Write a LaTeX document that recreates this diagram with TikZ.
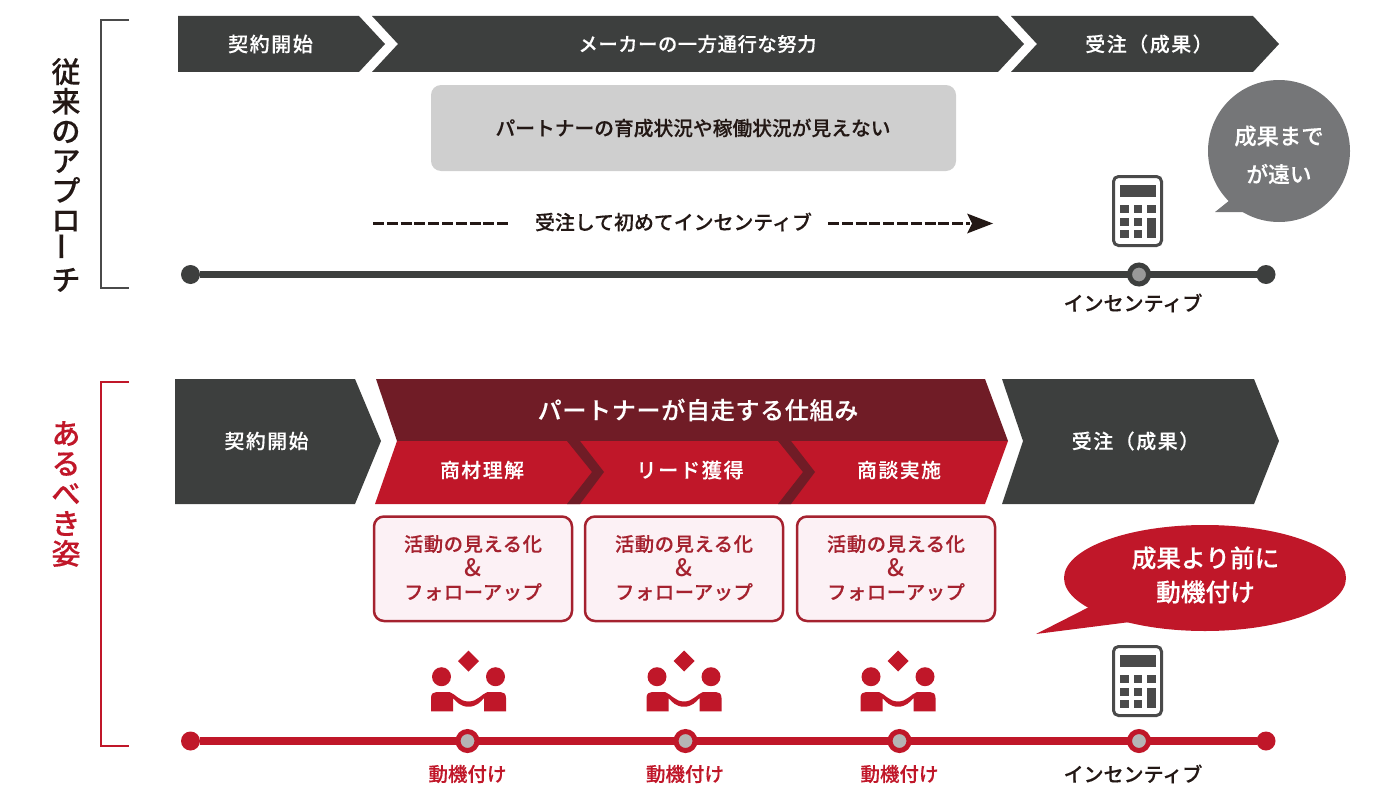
\documentclass[tikz,border=0pt]{standalone}
\usepackage{fontspec}
\setmainfont[UprightFont={* Medium},BoldFont={* Medium},BoldFeatures={FakeBold=0.25}]{Noto Sans CJK JP}
\newfontfamily\jpt[LetterSpace=8,UprightFont={* Medium},BoldFont={* Medium},BoldFeatures={FakeBold=0.25}]{Noto Sans CJK JP}
\newfontfamily\jps[LetterSpace=3,UprightFont={* Medium},BoldFont={* Medium},BoldFeatures={FakeBold=0.25}]{Noto Sans CJK JP}
\definecolor{dk}{HTML}{3D3F3E}
\definecolor{ink}{HTML}{231815}
\definecolor{rd}{HTML}{C01729}
\definecolor{drd}{HTML}{701C26}
\definecolor{brd}{HTML}{A5222F}
\definecolor{pk}{HTML}{FCF1F5}
\definecolor{gb}{HTML}{CFCFCF}
\definecolor{gbub}{HTML}{757678}
\definecolor{calc}{HTML}{4A4A4A}
\definecolor{hubd}{HTML}{999999}
\definecolor{hubr}{HTML}{B5B5B5}
\newcommand{\fs}[1]{\fontsize{#1}{#1}\selectfont\bfseries}
\tikzset{
  x=1pt,y=-1pt,
  lab/.style={inner sep=0pt,font=\fs{20}},
  wlab/.style={lab,text=white},
  endd/.style={circle,inner sep=0pt,outer sep=0pt,minimum size=19pt,fill=#1},
  midd/.style={circle,inner sep=0pt,outer sep=0pt,minimum size=19pt,draw=#1,line width=5pt},
  tl/.style={line width=7.5pt,draw=#1},
  brk/.style={line width=2pt,draw=#1},
  pbox/.style={rounded corners=10pt,draw=brd,line width=2.5pt,fill=pk},
  plab/.style={inner sep=0pt,font=\jps\fs{19.3},text=brd,align=center},
  vert/.style={inner sep=0pt,align=center},
  calcicon/.pic={
    \draw[draw=calc,line width=3pt,fill=white,rounded corners=5pt] (1113.5,176.5) rectangle (1161.5,245.5);
    \fill[calc] (1120,185) rectangle (1156,197);
    \foreach \xa/\xb in {1120/1129,1134/1142,1147/1156}{\fill[calc] (\xa,205) rectangle (\xb,213);}
    \foreach \xa/\xb in {1120/1129,1134/1142}{\fill[calc] (\xa,218) rectangle (\xb,226);\fill[calc] (\xa,230) rectangle (\xb,238);}
    \fill[calc] (1147,218) rectangle (1156,238);
  },
  shake/.pic={
    \fill[rd] (0,-10.5) -- (10.5,0) -- (0,10.5) -- (-10.5,0) -- cycle;
    \fill[rd] (-27,15.7) circle (9.5) (27,15.7) circle (9.5);
    \fill[rd] (-37.5,50.3) -- (-37.5,37) .. controls (-37.5,32.5) and (-35,31) .. (-32,31) -- (-19,31)
      .. controls (-13,33) and (-9,40.5) .. (0,40.5) .. controls (9,40.5) and (13,33) .. (19,31)
      -- (32,31) .. controls (35,31) and (37.5,32.5) .. (37.5,37) -- (37.5,50.3) -- (15.5,50.3) -- (15.5,37)
      .. controls (12,41) and (8,45.7) .. (0,45.7) .. controls (-8,45.7) and (-12,41) .. (-15.5,37) -- (-15.5,50.3) -- cycle;
  }
}
\begin{document}
\begin{tikzpicture}
\useasboundingbox (0,0) rectangle (1400,800);
% ---- top section
\draw[brk=calc] (129,20) -- (101,20) -- (101,288) -- (129,288);
\node[vert,text=ink,font=\fontsize{29}{29.7}\selectfont\bfseries] (vt) at (66,175) {従\\来\\の\\ア\\プ\\ロ\\\rotatebox{90}{ー}\\チ};
\fill[dk] (178,16) -- (359,16) -- (385,44) -- (359,72) -- (178,72) -- cycle;
\fill[dk] (372,16) -- (998,16) -- (1024,44) -- (998,72) -- (372,72) -- (398,44) -- cycle;
\fill[dk] (1011,16) -- (1253,16) -- (1279,44) -- (1253,72) -- (1011,72) -- (1037,44) -- cycle;
\node[wlab,font=\jpt\fs{20}] (t1) at (270.5,44) {契約開始};
\node[wlab,font=\jps\fs{19.3}] (t2) at (697.5,44) {メーカーの一方通行な努力};
\node[wlab,font=\jpt\fs{19.9}] (t3) at (1149,44) {受注（成果）};
\fill[gb,rounded corners=10pt] (431,85) rectangle (956,171);
\node[lab,text=ink,font=\fs{19.75}] (gbt) at (693,128) {パートナーの育成状況や稼働状況が見えない};
\node[lab,text=ink,font=\fs{19.9}] (inc) at (673.5,222) {受注して初めてインセンティブ};
\coordinate (dl) at (373,223.5);
\coordinate (dle) at (510,223.5);
\coordinate (dr) at (828,223.5);
\coordinate (dre) at (993,223.5);
\draw[ink,line width=3.2pt,dash pattern=on 11pt off 2.8pt] (dl) -- (dle);
\draw[ink,line width=3.2pt,dash pattern=on 11pt off 2.8pt] (dr) -- (970,223.5);
\fill[ink] (dre) -- (967,213.5) -- (972,223.5) -- (967,233.5) -- cycle;
\fill[gbub] (1279,151) circle (71);
\fill[gbub] (1215,212) -- (1235,196) -- (1250,212) -- cycle;
\node[wlab,font=\fs{22.3}] (b1) at (1279,136) {成果まで};
\node[wlab,font=\fs{21.7}] (b2) at (1279,174) {が遠い};
\pic at (0,0) {calcicon};
\node[endd=dk] (a0) at (190.5,274.5) {};
\node[endd=dk] (a2) at (1266,274.5) {};
\node[midd=dk,fill=hubd] (a1) at (1139,274.5) {};
\draw[tl=dk] (a0) -- (a1);
\draw[tl=dk] (a1) -- (a2);
\node[lab,text=ink] (l1) at (1133,303) {インセンティブ};
% ---- bottom section
\draw[brk=rd] (129,382) -- (101,382) -- (101,746) -- (129,746);
\node[vert,text=rd,font=\fontsize{29}{30}\selectfont\bfseries] (vb) at (66,494) {あ\\る\\べ\\き\\姿};
\fill[dk] (175,379) -- (355,379) -- (381,441) -- (355,504) -- (175,504) -- cycle;
\fill[dk] (1002,379) -- (1254,379) -- (1279,441) -- (1254,504) -- (1002,504) -- (1023,441) -- cycle;
\fill[drd] (376,379) -- (985,379) -- (1008,441) -- (397,441) -- cycle;
\fill[rd] (397,441) -- (1008,441) -- (985,504) -- (375,504) -- cycle;
\foreach \dx in {0,211}{
  \fill[drd,xshift=\dx] (567,441) -- (580,441) -- (604,472) -- (580,504) -- (567,504) -- (592,472) -- cycle;
}
\node[wlab,font=\jps\fs{24}] (m0) at (698,410) {パートナーが自走する仕組み};
\node[wlab,font=\jpt\fs{19.8}] (m1) at (482,470) {商材理解};
\node[wlab,font=\jpt\fs{20.2}] (m2) at (690,470) {リード獲得};
\node[wlab,font=\jpt\fs{19.8}] (m3) at (899,470) {商談実施};
\node[wlab,font=\jpt\fs{19.8}] (s1) at (266.5,441) {契約開始};
\node[wlab,font=\jpt\fs{19.9}] (s3) at (1135.5,441) {受注（成果）};
\foreach \xa/\xb/\c in {374/572/473,585/783/684,797/995/896}{
  \draw[pbox] (\xa,516.5) rectangle (\xb,621);
  \node[plab] at (\c,544) {活動の見える化};
  \node[plab,font=\fontsize{24}{24}\selectfont\mdseries] at (\c,568) {\&};
  \node[plab] at (\c,592) {フォローアップ};
}
\fill[rd] (1205,578) ellipse [x radius=141,y radius=53];
\fill[rd] (1036,634) -- (1095,604) -- (1130,622) -- cycle;
\node[wlab,font=\fs{24.7}] (r1) at (1205.5,558) {成果より前に};
\node[wlab,font=\fs{24.7}] (r2) at (1205.5,592) {動機付け};
\pic at (0,470) {calcicon};
\foreach \c in {468.5,684,898}{\pic at (\c,661) {shake};}
\node[endd=rd] (c0) at (190.5,741) {};
\node[endd=rd] (c5) at (1266,741) {};
\node[midd=rd,fill=hubr] (c1) at (467.5,741) {};
\node[midd=rd,fill=hubr] (c2) at (685.5,741) {};
\node[midd=rd,fill=hubr] (c3) at (899.5,741) {};
\node[midd=rd,fill=hubr] (c4) at (1139,741) {};
\draw[tl=rd] (c0) -- (c1);
\draw[tl=rd] (c1) -- (c2);
\draw[tl=rd] (c2) -- (c3);
\draw[tl=rd] (c3) -- (c4);
\draw[tl=rd] (c4) -- (c5);
\node[lab,text=rd,font=\fs{19.5}] (d1) at (467.5,774) {動機付け};
\node[lab,text=rd,font=\fs{19.5}] (d2) at (685,774) {動機付け};
\node[lab,text=rd,font=\fs{19.5}] (d3) at (899.5,774) {動機付け};
\node[lab,text=ink] (l2) at (1133,774) {インセンティブ};
\end{tikzpicture}
\end{document}
